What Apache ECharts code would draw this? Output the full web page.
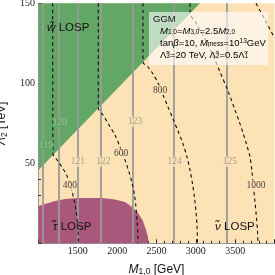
<!DOCTYPE html>
<html><head><meta charset="utf-8">
<script src="https://cdn.jsdelivr.net/npm/echarts@6/dist/echarts.min.js"></script>
<style>html,body{margin:0;padding:0;background:#fff}#c{width:275px;height:275px}</style>
</head><body><div id="c"></div>
<script>
// ---- data (values in axis units: M1,0 [GeV], Lambda2 [TeV]) ----
const xRange = [1000, 4000];
const yRange = [0, 150];
const winoRegion = [[1000,45.8],[3053,150],[1000,150]];
const stauRegion = [[1000,0],[1000,23.3],[1083,24.6],[1210,26.4],[1337,27.7],[1502,28.3],[1807,28.3],[1972,27.4],[2100,25.8],[2189,22.7],[2265,18.9],[2328,14.0],[2366,8.3],[2392,3.9],[2398,0]];
const higgsLevels = [119,120,121,122,123,124,125];
const higgsX = [1057,1261,1502,1794,2201,2722,3396];
const higgsLabelPos = [[1095,61.4],[1273,75.4],[1502,51],[1826,51],[2227,76],[2729,51],[3434,51]];
const contour400 = [[1180,150],[1184,55.8],[1235,52.1],[1299,47.7],[1356,42.7],[1400,37.1],[1432,31.4],[1458,25.8],[1477,20.2],[1492,14.6],[1502,8.3],[1508,0]];
const contour600 = [[1760,150],[1760,84.6],[1820,80.2],[1896,73.9],[1972,67.7],[2036,60.2],[2099,52.1],[2150,44.6],[2189,37.7],[2220,30.2],[2239,22.7],[2252,14.6],[2261,7.1],[2265,0]];
const contour800 = [[2328,150],[2328,113.3],[2392,110.2],[2456,105.8],[2519,100.2],[2583,92.7],[2646,85.2],[2710,77.7],[2773,70.2],[2837,62.1],[2888,53.9],[2926,45.8],[2958,37.1],[2983,28.3],[3002,19.6],[3015,10.8],[3021,0]];
const contour1000 = [[2926,150],[2926,143.6],[2989,138.9],[3053,133.3],[3116,127.7],[3180,121.4],[3243,114.6],[3307,107.1],[3409,95.2],[3498,83.3],[3549,76.4],[3600,68.9],[3651,60.8],[3689,53.9],[3714,44.6],[3733,35.2],[3752,25.8],[3771,15.8],[3784,7.1],[3790,0]];
const contour1200 = [[3765,150],[3880,139.6],[4000,128.3]];
const contourLevels = ['400','600','800','1000'];
const contourLabelPos = [[1400,36.4],[2049,56.4],[2545,95.8],[3765,36.4]];

// ---- styles ----
const C_ORANGE = '#fde2b6', C_GREEN = '#62a766', C_PURPLE = '#a9587c';
const serif = '"Liberation Serif", "DejaVu Serif", serif';
const sans = '"Liberation Sans", Arial, sans-serif';

function polygon(name, pts, color, z){
  return {type:'custom', name, z, silent:true, data: pts,
    renderItem:(params, api)=>{
      if(params.dataIndex!==0) return null;
      return {type:'polygon', shape:{points: pts.map(p=>api.coord(p))}, style:{fill:color}};
    }};
}
function dashed(pts){
  return {type:'line', data: pts, showSymbol:false, silent:true, z:4, smooth:0.3,
    lineStyle:{color:'#111', width:1.1, type:[3.5,3]}};
}
const series = [
  polygon('wino', winoRegion, C_GREEN, 1),
  polygon('stau', stauRegion, C_PURPLE, 1),
];
higgsX.forEach(x=>{
  series.push({type:'line', data:[[x,yRange[0]],[x,yRange[1]]], showSymbol:false, silent:true, z:3,
    lineStyle:{color:'#9a9a9a', width:1.8}});
});
[contour400,contour600,contour800,contour1000,contour1200].forEach(c=>series.push(dashed(c)));
series.push({type:'scatter', z:6, silent:true, symbolSize:0,
  data: higgsLabelPos.map((p,i)=>({value:p, label:{formatter:String(higgsLevels[i]),
     backgroundColor: (i<2? C_GREEN : C_ORANGE), color:(i<2? '#b8b8b8' : '#8f8f8f')}})),
  label:{show:true, position:'inside', fontFamily:serif, fontSize:9.5, padding:[0,0]}});
series.push({type:'scatter', z:6, silent:true, symbolSize:0,
  data: contourLabelPos.map((p,i)=>({value:p, label:{formatter:contourLevels[i]}})),
  label:{show:true, position:'inside', color:'#111', fontFamily:serif, fontSize:9.5, backgroundColor:C_ORANGE, padding:[0,0]}});

const rich = {
  i:{fontStyle:'italic', fontFamily:sans, fontSize:9.5, color:'#111'},
  s:{fontFamily:sans, fontSize:6.5, color:'#111', verticalAlign:'bottom', lineHeight:9},
  sup:{fontFamily:sans, fontSize:6.5, color:'#111', verticalAlign:'top', lineHeight:9},
  n:{fontFamily:sans, fontSize:9.5, color:'#111'}
};
const lbl = {i:{fontStyle:'italic', fontFamily:sans, fontSize:11.5, fill:'#111'}, n:{fontFamily:sans, fontSize:11.5, fill:'#111'}};
const option = {
  animation:false,
  backgroundColor:'#fff',
  grid:{left:38.5, right:0.5, top:3.3, bottom:31.7, show:true, backgroundColor:C_ORANGE, borderWidth:0,
        containLabel:false, outerBoundsMode:'none'},
  xAxis:[{type:'value', min:xRange[0], max:xRange[1], interval:500,
    axisLine:{show:true, onZero:false, lineStyle:{color:'#999', width:1}},
    axisTick:{show:true, inside:true, length:4, lineStyle:{color:'#222'}},
    minorTick:{show:true, splitNumber:5, length:2.5, lineStyle:{color:'#222'}},
    splitLine:{show:false},
    axisLabel:{showMinLabel:false, showMaxLabel:false, color:'#222', fontFamily:serif, fontSize:10, margin:3,
      formatter:v=>String(v)},
    name:'{it|M}{sb|1,0} [GeV]', nameLocation:'middle', nameGap:19,
    nameTextStyle:{fontFamily:sans, fontSize:12, color:'#111', rich:{
      it:{fontStyle:'italic', fontFamily:sans, fontSize:12, color:'#111'},
      sb:{fontFamily:sans, fontSize:8.5, color:'#111', verticalAlign:'bottom', lineHeight:14}}}
  },{type:'value', position:'top', min:xRange[0], max:xRange[1], interval:500,
    axisLine:{show:true, lineStyle:{color:'#999'}}, axisTick:{show:false}, axisLabel:{show:false}, splitLine:{show:false}}],
  yAxis:{type:'value', min:yRange[0], max:yRange[1], interval:50,
    axisLine:{show:true, onZero:false, lineStyle:{color:'#999', width:1}},
    axisTick:{show:true, inside:true, length:4, lineStyle:{color:'#222'}},
    minorTick:{show:true, splitNumber:5, length:2.5, lineStyle:{color:'#222'}},
    splitLine:{show:false},
    axisLabel:{showMinLabel:false, color:'#222', fontFamily:serif, fontSize:10, margin:3.5, formatter:v=>String(v)},
    name:'{it|Λ}{sb|2} [TeV]', nameLocation:'middle', nameGap:20,
    nameTextStyle:{fontFamily:sans, fontSize:12, color:'#111', rich:{
      it:{fontStyle:'italic', fontFamily:sans, fontSize:12, color:'#111'},
      sb:{fontFamily:sans, fontSize:8.5, color:'#111', verticalAlign:'bottom', lineHeight:14}}}
  },
  series,
  graphic:[
    {type:'rect', z:10, shape:{x:149, y:12, width:119, height:53}, style:{fill:'rgba(255,255,255,0.6)'}},
    {type:'text', z:11, x:153, y:19, style:{text:'GGM', fontFamily:sans, fontSize:9.5, fill:'#111', verticalAlign:'middle'}},
    {type:'text', z:11, x:160, y:31, style:{text:'{i|M}{s|1,0}{n|=}{i|M}{s|3,0}{n|=2.5}{i|M}{s|2,0}', rich, verticalAlign:'middle'}},
    {type:'text', z:11, x:160, y:43, style:{text:'{n|tan}{i|β}{n|=10, }{i|M}{s|mess}{n|=10}{sup|13}{n|GeV}', rich, verticalAlign:'middle'}},
    {type:'text', z:11, x:160, y:55, style:{text:'{n|Λ̃}{s|3}{n|=20 TeV, Λ̃}{s|2}{n|=0.5Λ̃}{s|1}', rich, verticalAlign:'middle'}},
    {type:'text', z:11, x:47, y:28, style:{text:'{i|w̃} {n|LOSP}', rich:lbl, verticalAlign:'middle'}},
    {type:'text', z:11, x:53, y:227, style:{text:'{i|τ̃} {n|LOSP}', rich:lbl, verticalAlign:'middle'}},
    {type:'text', z:11, x:215, y:227, style:{text:'{i|ν̃} {n|LOSP}', rich:lbl, verticalAlign:'middle'}}
  ]
};
const chart = echarts.init(document.getElementById('c'), null, {renderer:'canvas'});
chart.setOption(option);
</script></body></html>
